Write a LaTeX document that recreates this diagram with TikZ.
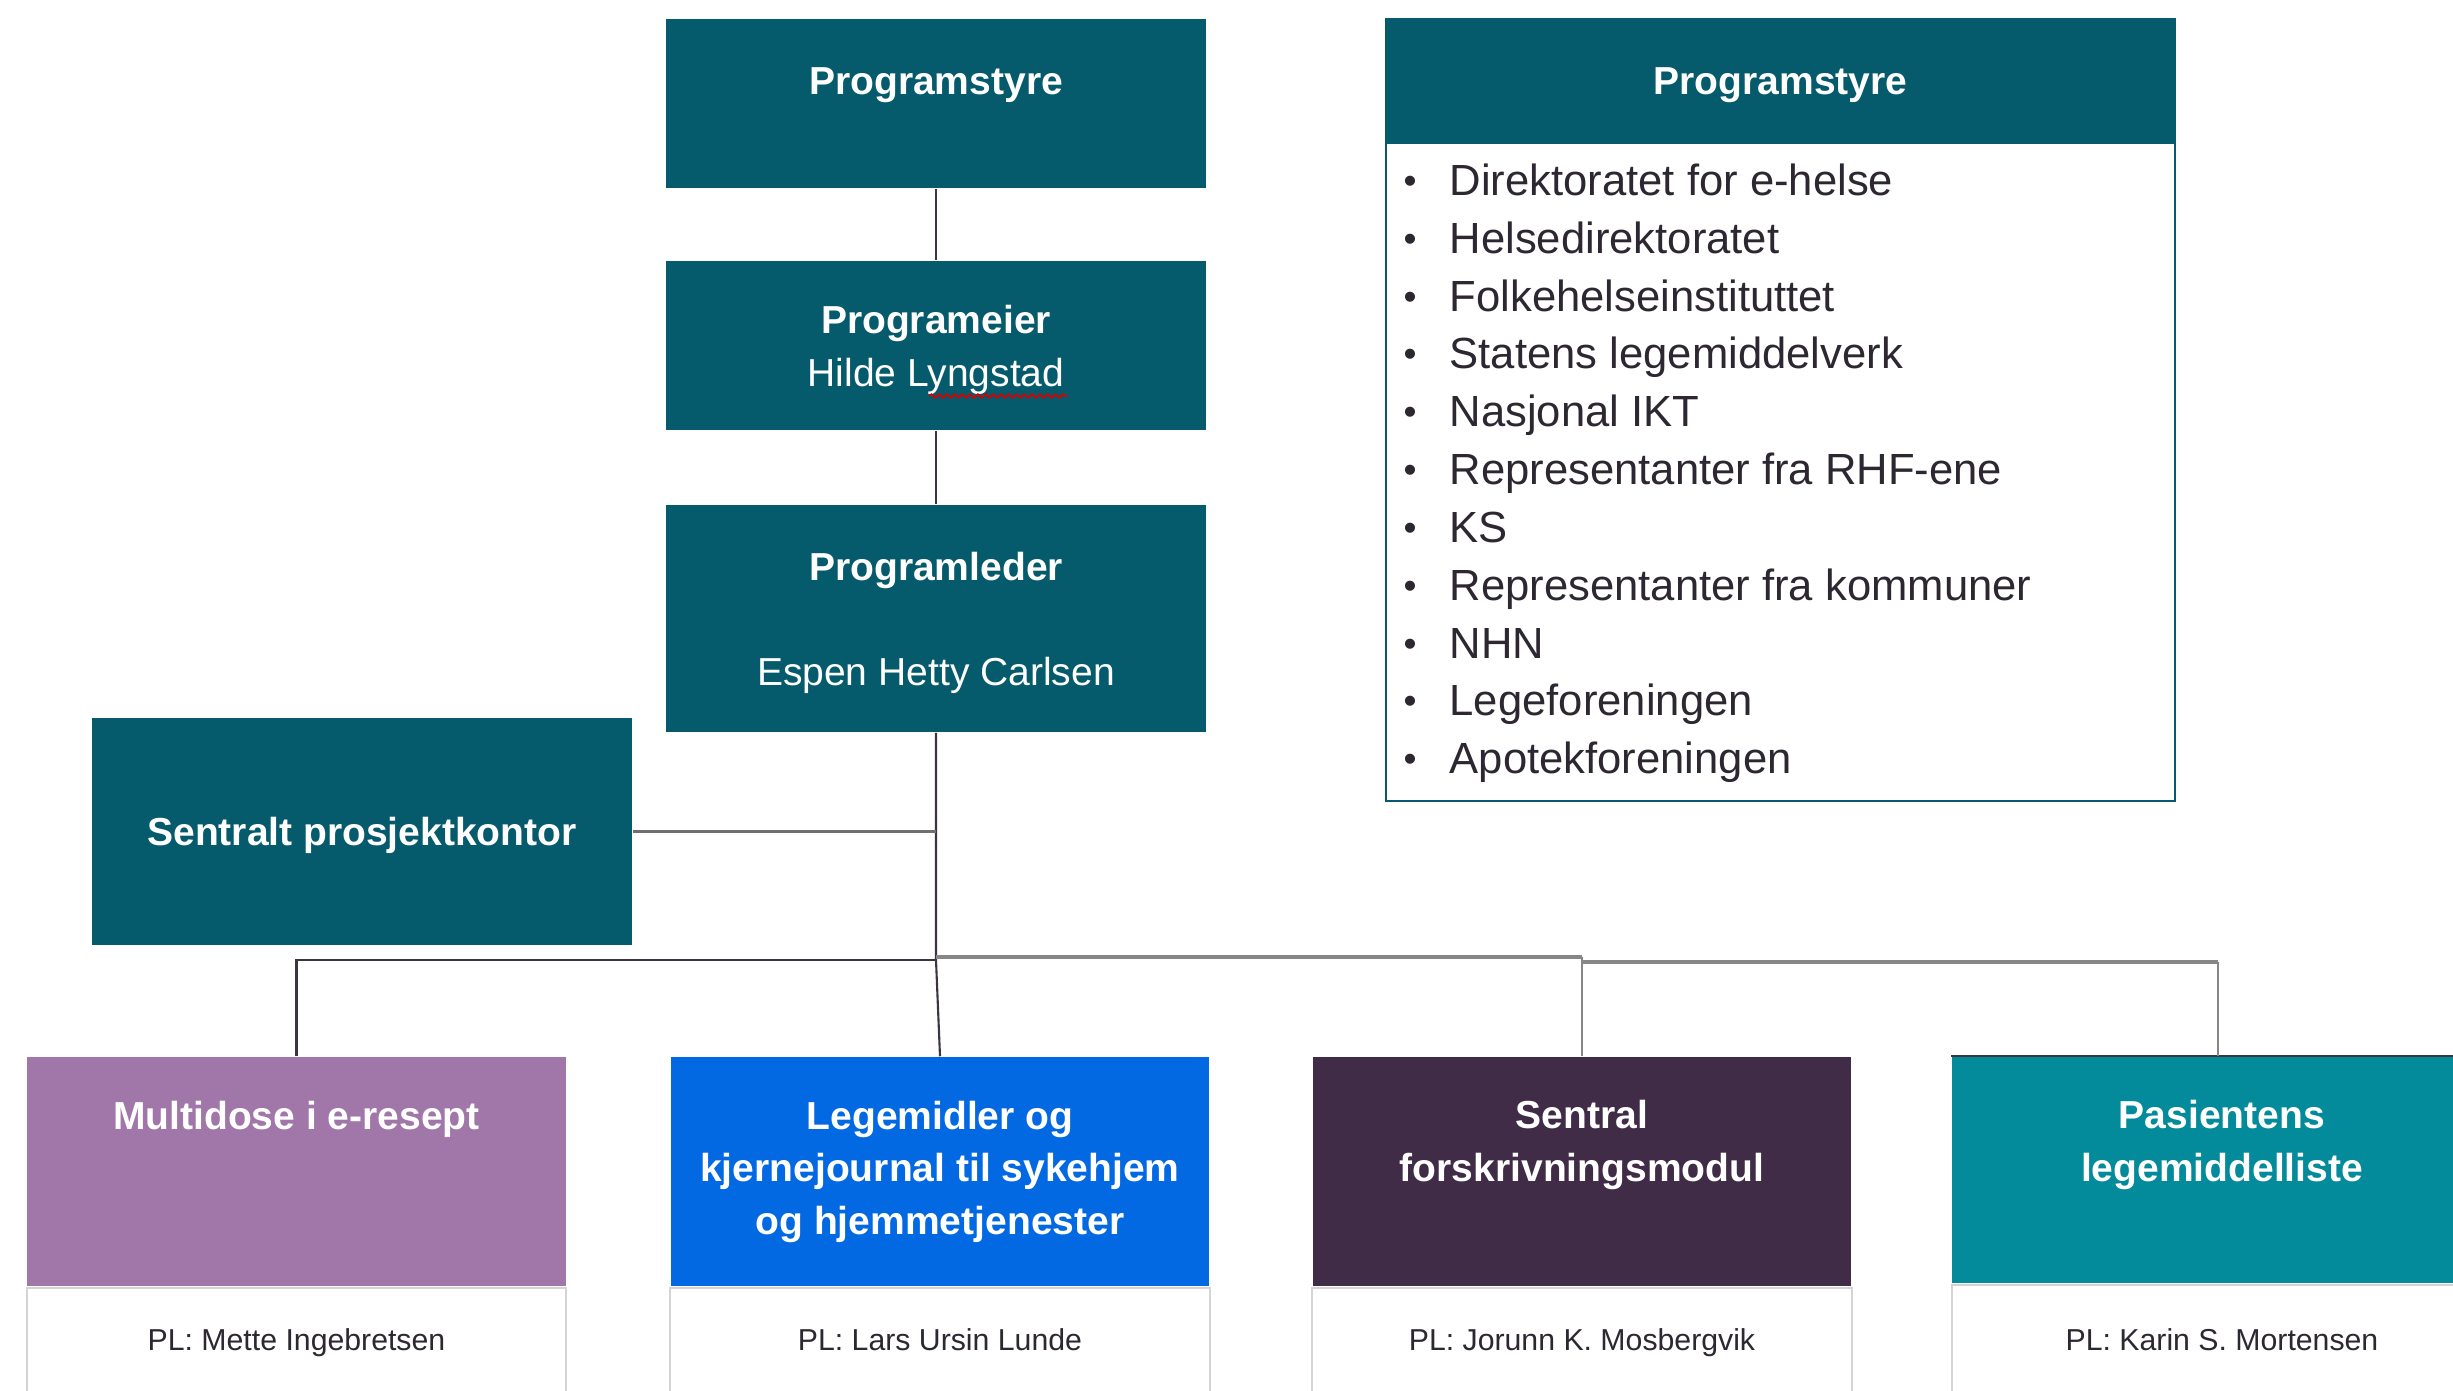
\documentclass[tikz,border=0pt]{standalone}
\usepackage{fontspec}
\setmainfont{Liberation Sans}
\usetikzlibrary{decorations.pathmorphing}

\definecolor{boxteal}{HTML}{055B6C}
\definecolor{multicol}{HTML}{A077A8}
\definecolor{legecol}{HTML}{0369E3}
\definecolor{sentralcol}{HTML}{412C48}
\definecolor{pasientcol}{HTML}{048B9B}
\definecolor{linedark}{HTML}{3C3442}
\definecolor{linegray}{HTML}{878787}
\definecolor{paleedge}{HTML}{D4D4D4}
\definecolor{textdark}{HTML}{2D2731}

\newcommand{\boardbullet}{\makebox[0.46cm][l]{\raisebox{0.02cm}{\scalebox{0.85}{•}}}}

\tikzset{
  orgbox/.style={fill=#1, draw=none, inner sep=0pt, minimum width=5.4cm},
  titletext/.style={text=white, font=\fontsize{11.1}{14.9}\selectfont\bfseries, inner sep=0pt, anchor=base, align=center},
  nametext/.style={text=white, font=\fontsize{11.1}{14.9}\selectfont, inner sep=0pt, anchor=base, align=center},
  pltext/.style={text=textdark, font=\fontsize{8.6}{10}\selectfont, inner sep=0pt, anchor=base},
  plbox/.style={fill=white, draw=paleedge, line width=0.5pt, inner sep=0pt, minimum width=5.39cm, minimum height=1.10cm, anchor=north},
  darkline/.style={draw=linedark, line width=0.6pt},
  grayline/.style={draw=linegray, line width=0.8pt},
  graybus/.style={draw=linegray, line width=1.2pt},
}

\begin{document}
\begin{tikzpicture}[x=0.01cm, y=-0.01cm]
\useasboundingbox (0,0) rectangle (2453,1390);
\clip (0,0) rectangle (2453,1390);

% ---- management chain ----
\node[orgbox=boxteal, minimum height=1.69cm] (ps) at (936,103.5) {};
\node[titletext] (psT) at (936,94) {Programstyre};

\node[orgbox=boxteal, minimum height=1.69cm] (pe) at (936,345.5) {};
\node[titletext] (peT) at (936,333) {Programeier};
\node[nametext] (peN) at (936,386) {Hilde Lyngstad};
\draw[red!85!black, line width=0.5pt, decorate, decoration={snake, amplitude=0.5pt, segment length=2.2pt}]
  (929,396) -- (1067,396);

\node[orgbox=boxteal, minimum height=2.27cm] (pl) at (936,618.5) {};
\node[titletext] (plT) at (936,580) {Programleder};
\node[nametext] (plN) at (936,685) {Espen Hetty Carlsen};

\node[orgbox=boxteal, minimum height=2.27cm] (kontor) at (362,831.5) {};
\node[titletext] (kontorT) at (362,845) {Sentralt prosjektkontor};

% ---- board members ----
\node[fill=white, draw=boxteal, line width=0.6pt, inner sep=0pt,
      minimum width=7.89cm, minimum height=7.82cm] (board) at (1780.5,410) {};
\node[fill=boxteal, inner sep=0pt, minimum width=7.89cm, minimum height=1.25cm,
      anchor=north] (boardH) at (board.north) {};
\node[titletext] (boardT) at (1780.5,94) {Programstyre};
\node[text=textdark, font=\fontsize{12.4}{16.45}\selectfont, inner sep=0pt,
      anchor=north west, align=left] (boardL) at (1403,163) {%
  \boardbullet Direktoratet for e-helse\\
  \boardbullet Helsedirektoratet\\
  \boardbullet Folkehelseinstituttet\\
  \boardbullet Statens legemiddelverk\\
  \boardbullet Nasjonal IKT\\
  \boardbullet Representanter fra RHF-ene\\
  \boardbullet KS\\
  \boardbullet Representanter fra kommuner\\
  \boardbullet NHN\\
  \boardbullet Legeforeningen\\
  \boardbullet Apotekforeningen};

% ---- projects ----
\node[orgbox=multicol, minimum width=5.39cm, minimum height=2.29cm] (multi) at (296.5,1171.5) {};
\node[plbox] (multiPL) at (multi.south) {};
\node[pltext] (multiN) at (296.5,1350) {PL: Mette Ingebretsen};
\node[titletext] (multiT) at (296.5,1129) {Multidose i e-resept};

\node[orgbox=legecol, minimum width=5.38cm, minimum height=2.29cm] (lege) at (940,1171.5) {};
\node[plbox] (legePL) at (lege.south) {};
\node[pltext] (legeN) at (940,1350) {PL: Lars Ursin Lunde};
\node[titletext] (legeT) at (940,1234) {Legemidler og\\kjernejournal til sykehjem\\og hjemmetjenester};

\node[orgbox=sentralcol, minimum width=5.38cm, minimum height=2.29cm] (sentral) at (1582,1171.5) {};
\node[plbox] (sentralPL) at (sentral.south) {};
\node[pltext] (sentralN) at (1582,1350) {PL: Jorunn K. Mosbergvik};
\node[titletext] (sentralT) at (1582,1181) {Sentral\\forskrivningsmodul};

\node[orgbox=pasientcol, minimum width=5.40cm, minimum height=2.26cm] (pasient) at (2222,1170) {};
\node[plbox] (pasientPL) at (pasient.south) {};
\node[pltext] (pasientN) at (2222,1350) {PL: Karin S. Mortensen};
\node[titletext] (pasientT) at (2222,1181) {Pasientens\\legemiddelliste};
\draw[draw=linedark, line width=0.5pt] (pasient.north west) -- (pasient.north east);

% ---- connectors ----
\coordinate (busDark) at (0,960);
\coordinate (busMid) at (0,957);
\coordinate (busRight) at (0,962);
\coordinate (pasientDrop) at (2218,962);

\draw[darkline] (ps.south) -- (pe.north);
\draw[darkline] (pe.south) -- (pl.north);
\draw[darkline] (pl.south) -- (pl.south |- busDark) -- (lege.north);
\draw[draw=linegray!70!linedark, line width=0.9pt] (kontor.east) -- (kontor.east -| pl.south);
\draw[darkline] (pl.south |- busDark) -- (multi.north |- busDark) -- (multi.north);
\draw[graybus] (pl.south |- busMid) -- (sentral.north |- busMid);
\draw[grayline] (sentral.north |- busMid) -- (sentral.north);
\draw[graybus] (sentral.north |- busRight) -- (pasientDrop);
\draw[grayline] (pasientDrop) -- (pasientDrop |- pasient.north);
\end{tikzpicture}
\end{document}
